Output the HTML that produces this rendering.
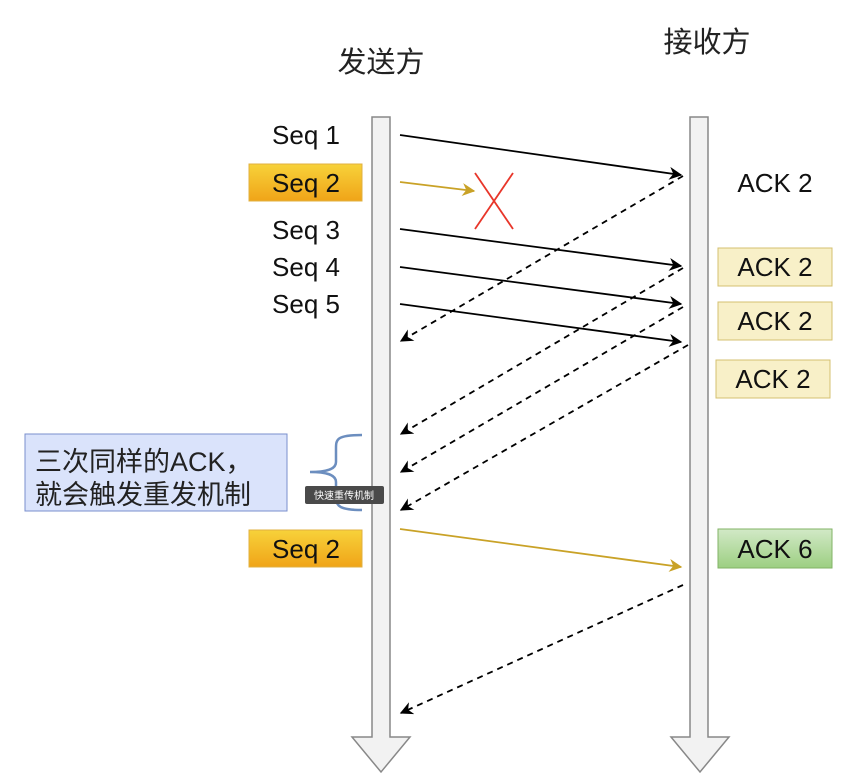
<!DOCTYPE html>
<html><head><meta charset="utf-8"><style>
html,body{margin:0;padding:0;background:#fff;}
svg{display:block;font-family:"Liberation Sans","Noto Sans CJK SC",sans-serif;}
</style></head><body>
<svg width="859" height="781" viewBox="0 0 859 781" xmlns="http://www.w3.org/2000/svg">
<defs>
<marker id="ab" viewBox="0 0 10 10" refX="9" refY="5" markerWidth="15" markerHeight="13" markerUnits="userSpaceOnUse" orient="auto"><path d="M0,0 L10,5 L0,10 L3,5 Z" fill="#000"/></marker>
<marker id="ag" viewBox="0 0 10 10" refX="9" refY="5" markerWidth="15" markerHeight="13" markerUnits="userSpaceOnUse" orient="auto"><path d="M0,0 L10,5 L0,10 L3,5 Z" fill="#c9a227"/></marker>
<linearGradient id="gold" x1="0" y1="0" x2="0" y2="1"><stop offset="0" stop-color="#f7d23a"/><stop offset="1" stop-color="#f0a418"/></linearGradient>
<linearGradient id="grn" x1="0" y1="0" x2="0" y2="1"><stop offset="0" stop-color="#d2e9c7"/><stop offset="1" stop-color="#9ccf81"/></linearGradient>
</defs>
<text x="381" y="72" font-size="29" text-anchor="middle" fill="#222">发送方</text>
<text x="707" y="52" font-size="29" text-anchor="middle" fill="#222">接收方</text>
<path d="M372,117 H390 V737 H410 L381,772 L352,737 H372 Z" fill="#f2f2f2" stroke="#888" stroke-width="1.5"/>
<path d="M690,117 H708 V737 H729 L700,772 L671,737 H690 Z" fill="#f2f2f2" stroke="#888" stroke-width="1.5"/>
<g font-size="26" fill="#111" text-anchor="middle">
<text x="306" y="144">Seq 1</text>
<rect x="249" y="164" width="113" height="37" fill="url(#gold)" stroke="#e0b040"/>
<text x="306" y="192">Seq 2</text>
<text x="306" y="239">Seq 3</text>
<text x="306" y="276">Seq 4</text>
<text x="306" y="313">Seq 5</text>
<rect x="249" y="530" width="113" height="37" fill="url(#gold)" stroke="#e0b040"/>
<text x="306" y="558">Seq 2</text>
<text x="775" y="192">ACK 2</text>
<rect x="718" y="248" width="114" height="38" fill="#f8f0c8" stroke="#d4c070"/>
<text x="775" y="276">ACK 2</text>
<rect x="718" y="302" width="114" height="38" fill="#f8f0c8" stroke="#d4c070"/>
<text x="775" y="330">ACK 2</text>
<rect x="716" y="360" width="114" height="38" fill="#f8f0c8" stroke="#d4c070"/>
<text x="773" y="388">ACK 2</text>
<rect x="718" y="529" width="114" height="39" fill="url(#grn)" stroke="#82b366"/>
<text x="775" y="558">ACK 6</text>
</g>
<g stroke="#000" stroke-width="1.8" fill="none">
<line x1="400" y1="135" x2="681" y2="175" marker-end="url(#ab)"/>
<line x1="400" y1="229" x2="681" y2="266" marker-end="url(#ab)"/>
<line x1="400" y1="267" x2="681" y2="304" marker-end="url(#ab)"/>
<line x1="400" y1="304" x2="681" y2="342" marker-end="url(#ab)"/>
</g>
<g stroke="#000" stroke-width="1.8" fill="none" stroke-dasharray="6,5">
<line x1="683" y1="176" x2="401" y2="341" marker-end="url(#ab)"/>
<line x1="683" y1="268" x2="401" y2="434" marker-end="url(#ab)"/>
<line x1="683" y1="307" x2="401" y2="472" marker-end="url(#ab)"/>
<line x1="688" y1="345" x2="401" y2="510" marker-end="url(#ab)"/>
<line x1="683" y1="585" x2="401" y2="713" marker-end="url(#ab)"/>
</g>
<line x1="400" y1="182" x2="474" y2="191" stroke="#c9a227" stroke-width="1.8" marker-end="url(#ag)"/>
<line x1="400" y1="529" x2="681" y2="567" stroke="#c9a227" stroke-width="1.8" marker-end="url(#ag)"/>
<g stroke="#e8362a" stroke-width="1.8"><line x1="475" y1="173" x2="513" y2="229"/><line x1="513" y1="173" x2="475" y2="229"/></g>
<rect x="25" y="434" width="262" height="77" fill="#dae3fb" stroke="#7a8fcc"/>
<g font-size="27" fill="#222"><text x="35" y="471">三次同样的ACK，</text><text x="35" y="504">就会触发重发机制</text></g>
<path d="M362,435 C335,435 336,440 336,450 L336,462 C336,468 330,472 310,472 C330,472 336,476 336,482 L336,498 C336,506 340,510 362,510" fill="none" stroke="#6c8ebf" stroke-width="2.5"/>
<rect x="305" y="486" width="79" height="18" rx="2" fill="#4a4a4a"/>
<text x="344" y="499" font-size="10" fill="#fff" text-anchor="middle">快速重传机制</text>
</svg>
</body></html>
